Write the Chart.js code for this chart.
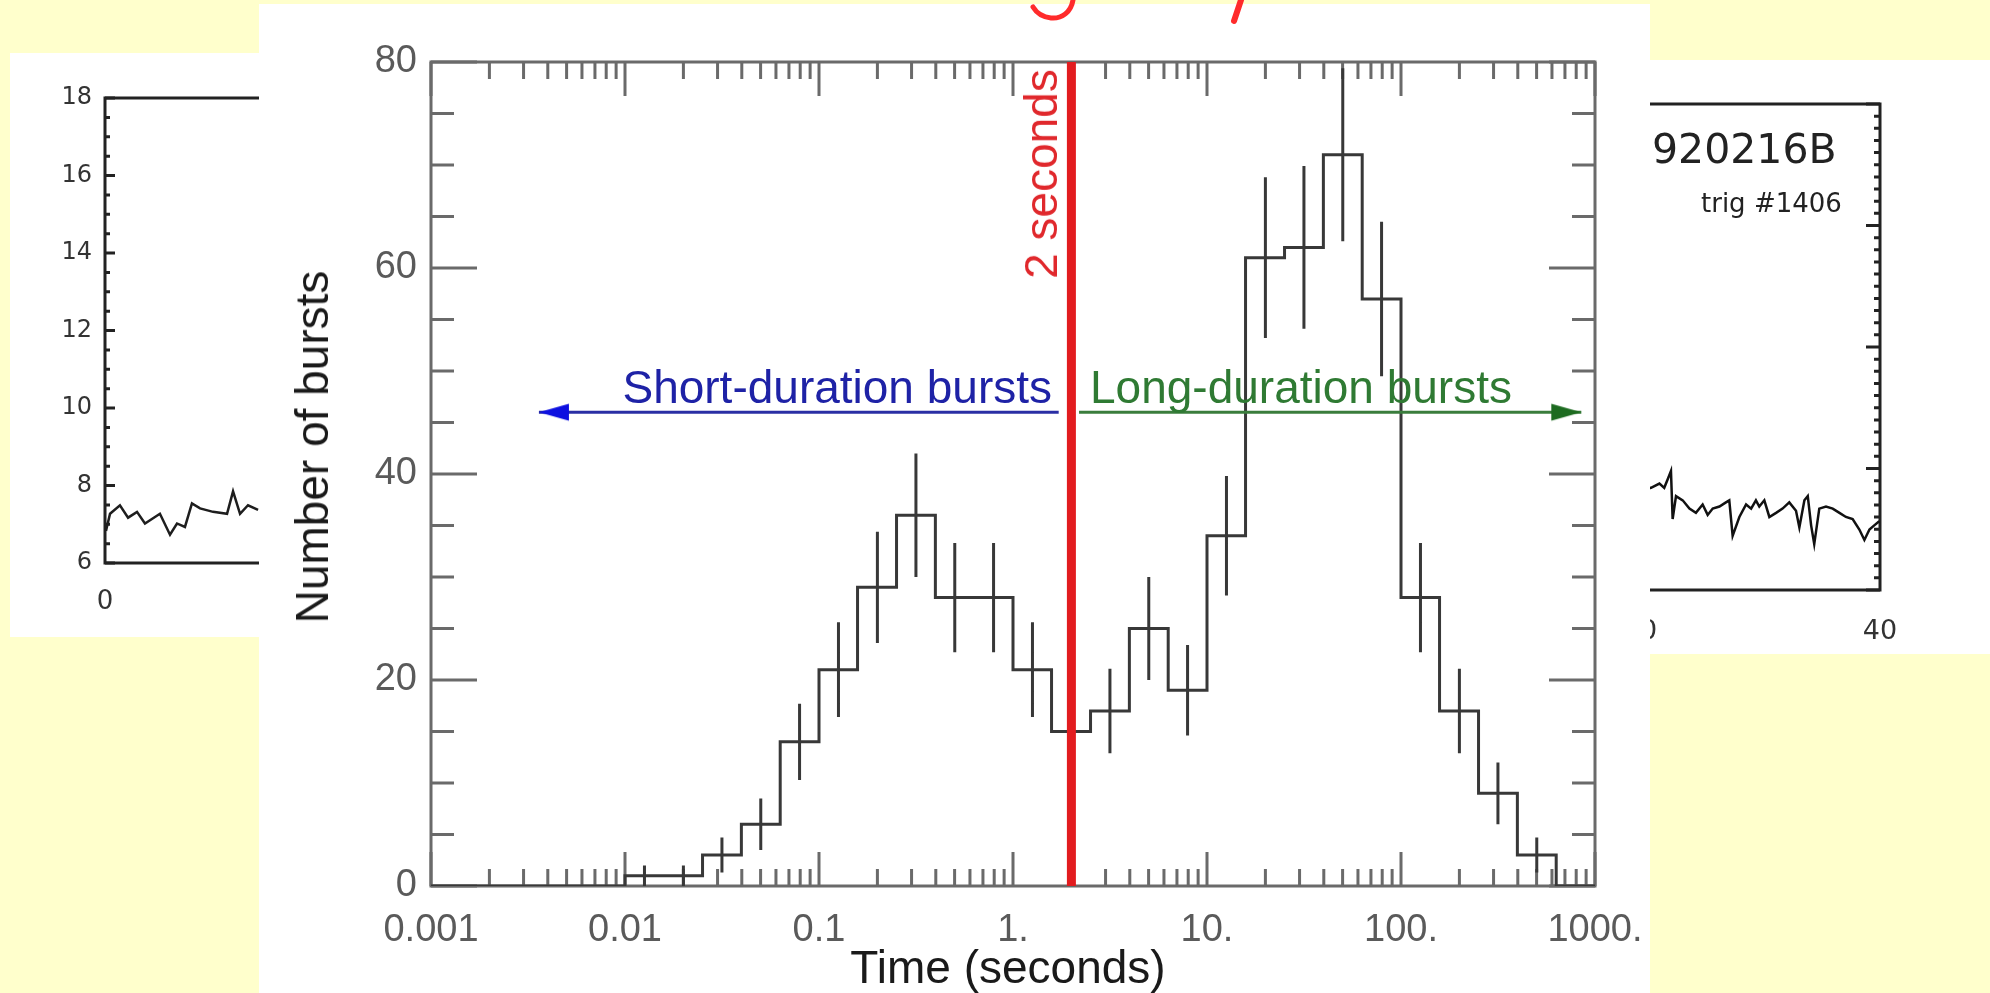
<!DOCTYPE html>
<html>
<head>
<meta charset="utf-8">
<title>Gamma-ray burst durations</title>
<script src="https://cdn.jsdelivr.net/npm/chart.js@4.4.1/dist/chart.umd.min.js"></script>
<style>
  html, body { margin:0; padding:0; }
  body { width:1990px; height:993px; overflow:hidden; background:#ffffcc; position:relative; }
  .panel { position:absolute; background:#ffffff; }
  canvas { position:absolute; display:block; }
  .t { position:absolute; white-space:nowrap; margin:0; }
</style>
</head>
<body>
<!-- left background light curve -->
<div class="panel" style="left:10px;top:53px;width:290px;height:584px"></div>
<canvas id="leftCurve" width="290" height="584" style="left:10px;top:53px"></canvas>
<!-- right background light curve -->
<div class="panel" style="left:1300px;top:60px;width:690px;height:594px"></div>
<canvas id="rightCurve" width="690" height="594" style="left:1300px;top:60px"></canvas>
<div class="t" style="left:1652px;top:129px;font:41px/1 'DejaVu Sans',sans-serif;color:#222">920216B</div>
<div class="t" style="left:1701px;top:190px;font:26px/1 'DejaVu Sans',sans-serif;color:#222">trig #1406</div>
<!-- main histogram -->
<div class="panel" style="left:259px;top:4px;width:1391px;height:989px"></div>
<canvas id="mainChart" width="1391" height="989" style="left:259px;top:4px"></canvas>
<div class="t" style="left:312px;top:447px;font:46px/1 'Liberation Sans',Arial,sans-serif;color:#1a1a1a;transform:translate(-50%,-50%) rotate(-90deg)">Number of bursts</div>
<div class="t" style="left:1008px;top:944px;font:46px/1 'Liberation Sans',Arial,sans-serif;color:#1a1a1a;transform:translateX(-50%)">Time (seconds)</div>
<div class="t" style="right:938px;top:364px;font:46px/1 'Liberation Sans',Arial,sans-serif;color:#1e22a6">Short-duration bursts</div>
<div class="t" style="left:1090px;top:364px;font:46px/1 'Liberation Sans',Arial,sans-serif;color:#2f7a33">Long-duration bursts</div>
<div class="t" style="left:1041px;top:174px;font:46px/1 'Liberation Sans',Arial,sans-serif;color:#e0282c;transform:translate(-50%,-50%) rotate(-90deg)">2 seconds</div>
<svg style="position:absolute;left:0;top:0" width="1990" height="40">
  <path d="M1073,0 C1071,12 1062,19 1051,18 C1042,17 1036,12 1033,7" stroke="#ff2b2b" stroke-width="5" fill="none" stroke-linecap="round"/>
  <path d="M1241,0 L1234,21" stroke="#ff2b2b" stroke-width="6" fill="none" stroke-linecap="round"/>
</svg>

<script>
// ---------------- data ----------------
const binEdges   = [0.001,0.00158,0.00251,0.00398,0.00631,0.01,0.0158,0.0251,0.0398,0.0631,0.1,0.158,0.251,0.398,0.631,1,1.58,2.51,3.98,6.31,10,15.8,25.1,39.8,63.1,100,158,251,398,631,1000];
const binCenters = [0.00126,0.002,0.00316,0.00501,0.00794,0.0126,0.02,0.0316,0.0501,0.0794,0.126,0.2,0.316,0.501,0.794,1.26,2,3.16,5.01,7.94,12.6,20,31.6,50.1,79.4,126,200,316,501,794];
const burstCounts = [0,0,0,0,0,1,1,3,6,14,21,29,36,28,28,21,15,17,25,19,34,61,62,71,57,28,17,9,3,0];
const countErrors = [0,0,0,0,0,1,1,1.7,2.5,3.7,4.6,5.4,6,5.3,5.3,4.6,3.9,4.1,5,4.4,5.8,7.8,7.9,8.4,7.5,5.3,4.1,3,1.7,0];

const xTickDecades = [0.001,0.01,0.1,1,10,100,1000];
const xTickLabels  = ['0.001','0.01','0.1','1.','10.','100.','1000.'];
const xMinorSteps  = [2,3,4,5,6,7,8,9];
const yTickValues  = [0,5,10,15,20,25,30,35,40,45,50,55,60,65,70,75,80];
const yTickLabels  = ['0','20','40','60','80'];

const divideSeconds = 2;
const dividerY = [0,80];
const arrowLevel = 46;
const shortArrowX = [1.72, 0.0036];
const longArrowX  = [2.19, 850];

// left background light curve (counts vs time)
const leftX = [0.06,0.31,0.92,1.42,1.97,2.46,3.38,4.0,4.43,4.92,5.35,5.85,6.65,7.51,7.88,8.31,8.8,9.42];
const leftY = [6.83,7.27,7.49,7.17,7.32,7.02,7.27,6.73,7.02,6.93,7.54,7.41,7.32,7.27,7.85,7.27,7.49,7.37];
const leftYTickLabels = ['6','8','10','12','14','16','18'];
const leftXTickLabels = ['0'];

// right background light curve (920216B)
const rightX = [30.11,30.46,30.81,31.01,31.15,31.29,31.36,31.5,31.78,32.06,32.33,32.61,32.82,33.03,33.31,33.58,33.72,33.86,34.14,34.42,34.63,34.83,34.97,35.18,35.39,35.67,35.94,36.22,36.5,36.64,36.85,36.99,37.13,37.26,37.47,37.75,38.03,38.31,38.58,38.86,39.14,39.35,39.56,39.76,39.97];
const rightY = [0.824,0.841,0.876,0.841,0.910,0.979,0.584,0.773,0.738,0.670,0.635,0.704,0.618,0.670,0.687,0.721,0.738,0.446,0.601,0.704,0.670,0.738,0.687,0.738,0.601,0.635,0.670,0.721,0.652,0.515,0.738,0.773,0.532,0.378,0.670,0.687,0.670,0.635,0.601,0.584,0.498,0.412,0.498,0.532,0.567];
const rightXTickValues = [20,30,40];
const rightXTickLabels = ['20','30','40'];

// ---------------- helpers ----------------
const near = (a, b) => Math.abs(a / b - 1) < 1e-6;

function frameAndTicks(cfg) {
  return {
    id: 'frameTicks' + cfg.name,
    beforeDatasetsDraw(chart) {
      const ctx = chart.ctx, a = chart.chartArea;
      ctx.save();
      ctx.strokeStyle = cfg.color;
      ctx.lineWidth = cfg.width;
      ctx.lineCap = 'butt';
      ctx.strokeRect(a.left, a.top, a.right - a.left, a.bottom - a.top);
      ctx.beginPath();
      if (cfg.x) {
        const s = chart.scales.x;
        s.ticks.forEach(t => {
          const p = s.getPixelForValue(t.value);
          const len = cfg.x.isMajor(t.value) ? cfg.x.major : cfg.x.minor;
          if (cfg.x.sides.includes('bottom')) { ctx.moveTo(p, a.bottom); ctx.lineTo(p, a.bottom - len); }
          if (cfg.x.sides.includes('top')) { ctx.moveTo(p, a.top); ctx.lineTo(p, a.top + len); }
        });
      }
      if (cfg.y) {
        const s = chart.scales.y;
        s.ticks.forEach(t => {
          const p = s.getPixelForValue(t.value);
          const len = cfg.y.isMajor(t.value) ? cfg.y.major : cfg.y.minor;
          if (cfg.y.sides.includes('left')) { ctx.moveTo(a.left, p); ctx.lineTo(a.left + len, p); }
          if (cfg.y.sides.includes('right')) { ctx.moveTo(a.right, p); ctx.lineTo(a.right - len, p); }
        });
      }
      ctx.stroke();
      ctx.restore();
    }
  };
}

function arrowHead(color, dir) {
  const c = document.createElement('canvas');
  c.width = 64; c.height = 20;
  const g = c.getContext('2d');
  g.fillStyle = color;
  g.beginPath();
  if (dir < 0) { g.moveTo(32, 10); g.lineTo(62, 1.5); g.lineTo(62, 18.5); }
  else { g.moveTo(32, 10); g.lineTo(2, 1.5); g.lineTo(2, 18.5); }
  g.closePath();
  g.fill();
  return c;
}

// fix an axis' thickness and drop the label overhang padding so the plot box is exact
const fitX = h => s => { s.height = h; s.paddingLeft = 0; s.paddingRight = 0; };
const fitY = w => s => { s.width = w; s.paddingTop = 0; s.paddingBottom = 0; };

const common = {
  responsive: false,
  animation: false,
  events: [],
  plugins: { legend: { display: false }, tooltip: { enabled: false } }
};

// ---------------- main chart ----------------
const xTickValues = [];
xTickDecades.forEach((d, i) => {
  xTickValues.push(d);
  if (i < xTickDecades.length - 1) xMinorSteps.forEach(m => xTickValues.push(m * d));
});

const histPoints = binEdges.map((e, i) => ({ x: e, y: burstCounts[Math.min(i, burstCounts.length - 1)] }));
const errPoints = [];
binCenters.forEach((c, i) => {
  if (countErrors[i] > 0) {
    errPoints.push({ x: c, y: burstCounts[i] - countErrors[i] });
    errPoints.push({ x: c, y: burstCounts[i] + countErrors[i] });
    errPoints.push({ x: c, y: null });
  }
});

const tickFont = { family: "'Liberation Sans', Arial, sans-serif", size: 38 };

new Chart(document.getElementById('mainChart'), {
  type: 'scatter',
  data: {
    datasets: [
      { label: '2 seconds', data: dividerY.map(y => ({ x: divideSeconds, y })), showLine: true,
        borderColor: '#e21c1f', borderWidth: 9, pointRadius: 0, borderCapStyle: 'butt', order: 0 },
      { label: 'Short-duration bursts', data: shortArrowX.map(x => ({ x, y: arrowLevel })), showLine: true,
        borderColor: '#2a2ea4', borderWidth: 3, pointRadius: [0, 5], pointStyle: arrowHead('#0d10e0', -1), order: 1 },
      { label: 'Long-duration bursts', data: longArrowX.map(x => ({ x, y: arrowLevel })), showLine: true,
        borderColor: '#3a7d3c', borderWidth: 3, pointRadius: [0, 5], pointStyle: arrowHead('#1d6b20', 1), order: 1 },
      { label: 'Number of bursts', data: histPoints, showLine: true, stepped: true,
        borderColor: '#383838', borderWidth: 3, pointRadius: 0, borderJoinStyle: 'miter', order: 2 },
      { label: 'sqrt(N) errors', data: errPoints, showLine: true, spanGaps: false,
        borderColor: '#383838', borderWidth: 3, pointRadius: 0, order: 3 }
    ]
  },
  options: Object.assign({}, common, {
    layout: { padding: { top: 58, right: 55, left: 0, bottom: 0 } },
    scales: {
      x: {
        type: 'logarithmic', position: 'bottom', min: 0.001, max: 1000,
        afterBuildTicks: s => { s.ticks = xTickValues.map(v => ({ value: v })); },
        afterFit: fitX(107),
        grid: { display: false, drawTicks: false }, border: { display: false },
        ticks: { autoSkip: false, maxRotation: 0, minRotation: 0, padding: 22, font: tickFont, color: '#5a5a5a',
          callback: v => { const i = xTickDecades.findIndex(d => near(v, d)); return i >= 0 ? xTickLabels[i] : ''; } }
      },
      y: {
        type: 'linear', position: 'left', min: 0, max: 80,
        afterBuildTicks: s => { s.ticks = yTickValues.map(v => ({ value: v })); },
        afterFit: fitY(172),
        grid: { display: false, drawTicks: false }, border: { display: false },
        ticks: { autoSkip: false, padding: 14, font: tickFont, color: '#5a5a5a',
          callback: v => yTickLabels.includes(String(v)) ? String(v) : '' }
      }
    }
  }),
  plugins: [frameAndTicks({
    name: 'main', color: '#6a6a6a', width: 3,
    x: { sides: ['bottom', 'top'], major: 34, minor: 17, isMajor: v => xTickDecades.some(d => near(v, d)) },
    y: { sides: ['left', 'right'], major: 46, minor: 23, isMajor: v => yTickLabels.includes(String(v)) }
  })]
});

// ---------------- left background chart ----------------
const leftYTicks = [];
for (let v = 6; v <= 18; v += 0.5) leftYTicks.push(v);
const sideFont = { family: "'DejaVu Sans', sans-serif", size: 24 };

new Chart(document.getElementById('leftCurve'), {
  type: 'scatter',
  data: { datasets: [{ data: leftX.map((x, i) => ({ x, y: leftY[i] })), showLine: true,
    borderColor: '#1e1e1e', borderWidth: 2.5, pointRadius: 0 }] },
  options: Object.assign({}, common, {
    layout: { padding: { top: 45, right: 0, left: 0, bottom: 0 } },
    scales: {
      x: { type: 'linear', min: 0, max: 12,
        afterBuildTicks: s => { s.ticks = [{ value: 0 }, { value: 12 }]; },
        afterFit: fitX(74),
        grid: { display: false, drawTicks: false }, border: { display: false },
        ticks: { autoSkip: false, maxRotation: 0, padding: 24, color: '#333',
          font: { family: "'DejaVu Sans', sans-serif", size: 26 },
          callback: v => v === 0 ? leftXTickLabels[0] : '' } },
      y: { type: 'linear', min: 6, max: 18,
        afterBuildTicks: s => { s.ticks = leftYTicks.map(v => ({ value: v })); },
        afterFit: fitY(95),
        grid: { display: false, drawTicks: false }, border: { display: false },
        ticks: { autoSkip: false, padding: 13, color: '#333', font: sideFont,
          callback: v => leftYTickLabels.includes(String(v)) ? String(v) : '' } }
    }
  }),
  plugins: [frameAndTicks({
    name: 'left', color: '#222', width: 3,
    y: { sides: ['left'], major: 10, minor: 5, isMajor: v => leftYTickLabels.includes(String(v)) }
  })]
});

// ---------------- right background chart ----------------
const rightYTicks = [];
for (let k = 0; k <= 40; k++) rightYTicks.push(k / 10);

new Chart(document.getElementById('rightCurve'), {
  type: 'scatter',
  data: { datasets: [{ data: rightX.map((x, i) => ({ x, y: rightY[i] })), showLine: true,
    borderColor: '#111', borderWidth: 2.5, pointRadius: 0 }] },
  options: Object.assign({}, common, {
    layout: { padding: { top: 44, right: 110, left: 0, bottom: 0 } },
    scales: {
      x: { type: 'linear', min: 20, max: 40,
        afterBuildTicks: s => { s.ticks = rightXTickValues.map(v => ({ value: v })); },
        afterFit: fitX(64),
        grid: { display: false, drawTicks: false }, border: { display: false },
        ticks: { autoSkip: false, maxRotation: 0, padding: 26, color: '#333',
          font: { family: "'DejaVu Sans', sans-serif", size: 27 },
          callback: v => { const i = rightXTickValues.indexOf(v); return i >= 0 ? rightXTickLabels[i] : ''; } } },
      y: { type: 'linear', min: 0, max: 4,
        afterBuildTicks: s => { s.ticks = rightYTicks.map(v => ({ value: v })); },
        afterFit: fitY(100),
        grid: { display: false, drawTicks: false }, border: { display: false },
        ticks: { display: false } }
    }
  }),
  plugins: [frameAndTicks({
    name: 'right', color: '#222', width: 3,
    y: { sides: ['right'], major: 14, minor: 6, isMajor: v => Math.abs(v - Math.round(v)) < 1e-6 }
  })]
});
</script>
</body>
</html>
